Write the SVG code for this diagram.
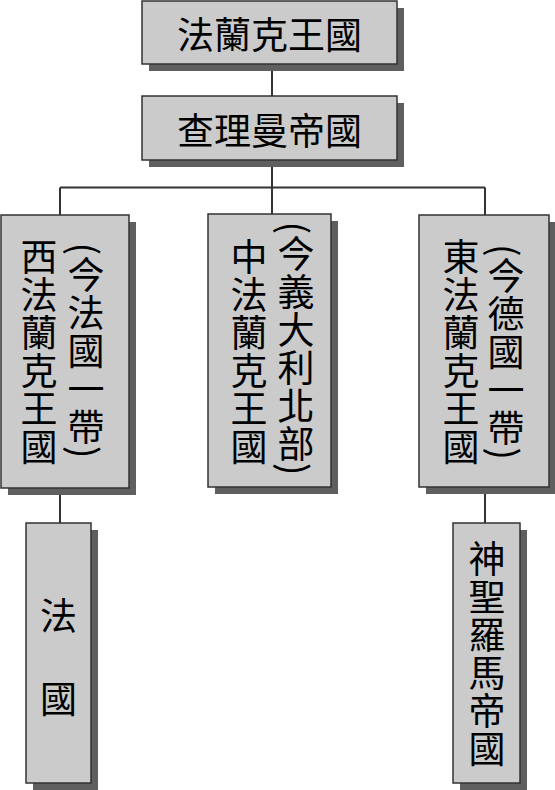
<svg xmlns="http://www.w3.org/2000/svg" width="555" height="790" viewBox="0 0 555 790">
<style>
.bg{fill:#ffffff}
.shadow{fill:#5f5f5f}
.box{fill:#cbcbcb;stroke:#333333;stroke-width:1.5}
.conn{stroke:#333333;stroke-width:2;fill:none}
.t{font-family:"Noto Sans CJK TC","Noto Sans CJK SC",sans-serif;font-size:37px;fill:#000000;text-anchor:middle;dominant-baseline:central}
.v{writing-mode:vertical-rl;letter-spacing:1px}
</style>
<rect class="bg" x="0" y="0" width="555" height="790"/>
<g id="connectors">
<path class="conn" d="M272,64 V96 M272,160 V187.5 M60,187.5 H485 M60,187.5 V215 M272,187.5 V214 M485,187.5 V215 M60,488 V523 M485,487 V523"/>
</g>
<g id="frankish-kingdom">
<rect class="shadow" x="149" y="8" width="255" height="63"/>
<rect class="box" x="142" y="1" width="255" height="63"/>
<text class="t" x="269.5" y="32.5">法蘭克王國</text>
</g>
<g id="charlemagne-empire">
<rect class="shadow" x="149" y="103" width="255" height="64"/>
<rect class="box" x="142" y="96" width="255" height="64"/>
<text class="t" x="269.5" y="129">查理曼帝國</text>
</g>
<g id="west-francia">
<rect class="shadow" x="8" y="222" width="128" height="273"/>
<rect class="box" x="1" y="215" width="128" height="273"/>
<text class="t v" x="39" y="352">西法蘭克王國</text>
<text class="t v" x="86" y="351">(今法國一帶)</text>
</g>
<g id="middle-francia">
<rect class="shadow" x="215" y="221" width="123" height="273"/>
<rect class="box" x="208" y="214" width="123" height="273"/>
<text class="t v" x="249" y="352">中法蘭克王國</text>
<text class="t v" x="296" y="349">(今義大利北部)</text>
</g>
<g id="east-francia">
<rect class="shadow" x="426" y="222" width="130" height="272"/>
<rect class="box" x="419" y="215" width="130" height="272"/>
<text class="t v" x="461" y="352.5">東法蘭克王國</text>
<text class="t v" x="506" y="352.5">(今德國一帶)</text>
</g>
<g id="france">
<rect class="shadow" x="33" y="530" width="65" height="260"/>
<rect class="box" x="26" y="523" width="65" height="260"/>
<text class="t" x="58.5"><tspan x="58.5" y="614">法</tspan><tspan x="58.5" y="697">國</tspan></text>
</g>
<g id="holy-roman-empire">
<rect class="shadow" x="460" y="530" width="67" height="260"/>
<rect class="box" x="453" y="523" width="67" height="260"/>
<text class="t v" x="487" y="654.5">神聖羅馬帝國</text>
</g>
</svg>
